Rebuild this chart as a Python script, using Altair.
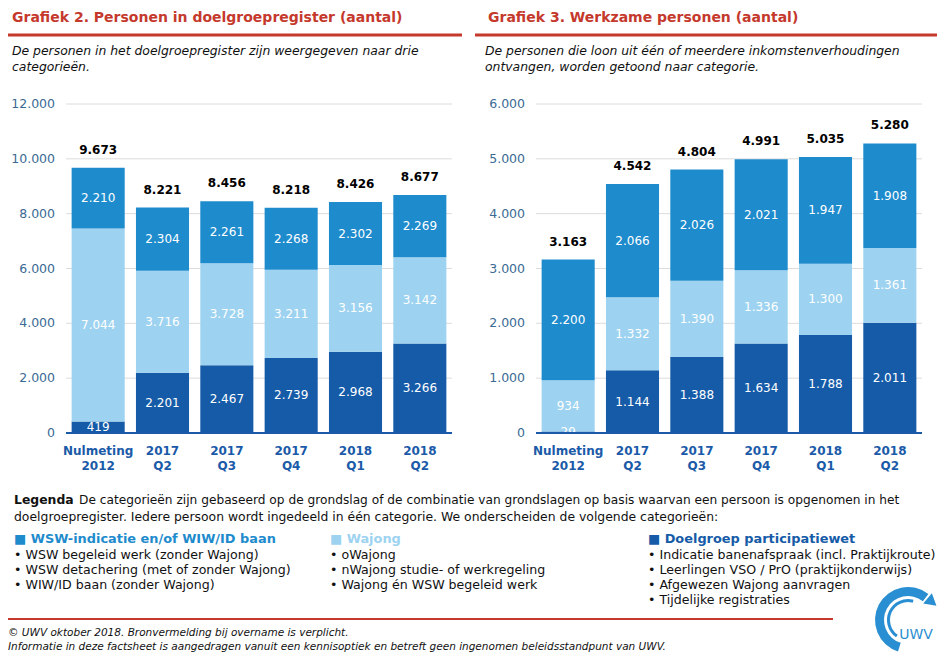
import altair as alt
import pandas as pd

# ---------------- data ----------------
CATS = ["Nulmeting 2012", "2017 Q2", "2017 Q3", "2017 Q4", "2018 Q1", "2018 Q2"]
SERIES = ["Doelgroep participatiewet", "Wajong", "WSW-indicatie en/of WIW/ID baan"]
COLORS = ["#165BA8", "#9DD3F0", "#1E8BCD"]

G2_DOELGROEP = [419, 2201, 2467, 2739, 2968, 3266]
G2_WAJONG = [7044, 3716, 3728, 3211, 3156, 3142]
G2_WSW = [2210, 2304, 2261, 2268, 2302, 2269]
G2_TOTAL = [9673, 8221, 8456, 8218, 8426, 8677]
G2_TICKS = [0, 2000, 4000, 6000, 8000, 10000, 12000]

G3_DOELGROEP = [29, 1144, 1388, 1634, 1788, 2011]
G3_WAJONG = [934, 1332, 1390, 1336, 1300, 1361]
G3_WSW = [2200, 2066, 2026, 2021, 1947, 1908]
G3_TOTAL = [3163, 4542, 4804, 4991, 5035, 5280]
G3_TICKS = [0, 1000, 2000, 3000, 4000, 5000, 6000]

TITLE2 = "Grafiek 2. Personen in doelgroepregister (aantal)"
SUB2 = ["De personen in het doelgroepregister zijn weergegeven naar drie",
        "categorieën."]
TITLE3 = "Grafiek 3. Werkzame personen (aantal)"
SUB3 = ["De personen die loon uit één of meerdere inkomstenverhoudingen",
        "ontvangen, worden getoond naar categorie."]

LEGEND_BOLD = "Legenda"
LEGEND_L1 = ("De categorieën zijn gebaseerd op de grondslag of de combinatie van grondslagen "
             "op basis waarvan een persoon is opgenomen in het")
LEGEND_L2 = ("doelgroepregister. Iedere persoon wordt ingedeeld in één categorie. "
             "We onderscheiden de volgende categorieën:")
HEAD = ["■ WSW-indicatie en/of WIW/ID baan", "■ Wajong", "■ Doelgroep participatiewet"]
HEAD_COLORS = ["#1E8BCD", "#9DD3F0", "#165BA8"]
ITEMS = [
    ["• WSW begeleid werk (zonder Wajong)",
     "• WSW detachering (met of zonder Wajong)",
     "• WIW/ID baan (zonder Wajong)"],
    ["• oWajong",
     "• nWajong studie- of werkregeling",
     "• Wajong én WSW begeleid werk"],
    ["• Indicatie banenafspraak (incl. Praktijkroute)",
     "• Leerlingen VSO / PrO (praktijkonderwijs)",
     "• Afgewezen Wajong aanvragen",
     "• Tijdelijke registraties"],
]
FOOT1 = "© UWV oktober 2018. Bronvermelding bij overname is verplicht."
FOOT2 = ("Informatie in deze factsheet is aangedragen vanuit een kennisoptiek en betreft "
         "geen ingenomen beleidsstandpunt van UWV.")

FONT = "DejaVu Sans"
RED = "#C5392D"
AXIS_BLUE = "#1A5AA8"
TICK_COL = "#3A6A94"
GRID = "#DCDCDC"
LOGO_BLUE = "#2A8FD2"


def nl(n):
    return f"{n:,}".replace(",", ".")


def long_df(d, wj, wsw):
    rows = []
    for i, c in enumerate(CATS):
        for o, (s, vals) in enumerate(zip(SERIES, [d, wj, wsw])):
            rows.append({"cat": c, "series": s, "v": vals[i], "ord": o, "label": nl(vals[i])})
    return pd.DataFrame(rows)


def one():
    return pd.DataFrame({"t": [0]})


def txt(text, x, y, size=12, color="#111111", weight="normal", style="normal", align="left"):
    return alt.Chart(pd.DataFrame({"t": [text]})).mark_text(
        font=FONT, fontSize=size, color=color, fontWeight=weight, fontStyle=style,
        align=align, baseline="middle"
    ).encode(text="t:N", x=alt.value(x), y=alt.value(y))


def hrule(x1, x2, y, color=RED, width=3):
    return alt.Chart(one()).mark_rule(color=color, strokeWidth=width).encode(
        x=alt.value(x1), x2=alt.value(x2), y=alt.value(y))


Y0, YTOP = 425, 96


def panel_layers(df, totals, ticks, dmax, x0, x1):
    xs = alt.Scale(domain=CATS, range=[x0, x1], paddingInner=0.175, paddingOuter=0.0875)
    ys = alt.Scale(domain=[0, dmax], range=[Y0, YTOP])
    tdf = pd.DataFrame({"tick": ticks, "lab": [nl(t) for t in ticks]})
    grid = alt.Chart(tdf).mark_rule(color=GRID, strokeWidth=1).encode(
        y=alt.Y("tick:Q", scale=ys, axis=None), x=alt.value(x0), x2=alt.value(x1))
    ticklab = alt.Chart(tdf).mark_text(
        font=FONT, fontSize=12.5, color=TICK_COL, align="right", baseline="middle"
    ).encode(y=alt.Y("tick:Q", scale=ys, axis=None), x=alt.value(x0 - 11), text="lab:N")
    bars = alt.Chart(df).mark_bar().encode(
        x=alt.X("cat:N", sort=CATS, scale=xs, axis=None),
        y=alt.Y("v:Q", stack="zero", scale=ys, axis=None),
        color=alt.Color("series:N", scale=alt.Scale(domain=SERIES, range=COLORS), legend=None),
        order=alt.Order("ord:Q", sort="ascending"),
    )
    seg = alt.Chart(df).transform_stack(
        stack="v", groupby=["cat"], as_=["y0", "y1"], sort=[alt.SortField("ord", order="ascending")]
    ).transform_calculate(mid="(datum.y0 + datum.y1) / 2").mark_text(
        font=FONT, fontSize=12, color="white"
    ).encode(
        x=alt.X("cat:N", sort=CATS, scale=xs, axis=None),
        y=alt.Y("mid:Q", scale=ys, axis=None),
        text="label:N",
    )
    base = alt.Chart(pd.DataFrame({"z": [0]})).mark_rule(color=AXIS_BLUE, strokeWidth=2).encode(
        y=alt.Y("z:Q", scale=ys, axis=None), x=alt.value(x0), x2=alt.value(x1))
    totdf = pd.DataFrame({"cat": CATS, "total": totals, "label": [nl(t) for t in totals]})
    tot = alt.Chart(totdf).mark_text(
        font=FONT, fontSize=12, fontWeight="bold", color="#000000", baseline="bottom", dy=-11
    ).encode(
        x=alt.X("cat:N", sort=CATS, scale=xs, axis=None),
        y=alt.Y("total:Q", scale=ys, axis=None),
        text="label:N",
    )
    xdf = pd.DataFrame({"cat": CATS, "lab": [c.replace(" ", "\n") for c in CATS]})
    xlab = alt.Chart(xdf).mark_text(
        font=FONT, fontSize=12, fontWeight="bold", color=AXIS_BLUE, baseline="top",
        lineBreak="\n", lineHeight=15
    ).encode(x=alt.X("cat:N", sort=CATS, scale=xs, axis=None), y=alt.value(Y0 + 13), text="lab:N")
    return [grid, ticklab, bars, seg, base, tot, xlab]


layers = []
# Grafiek 2
layers += panel_layers(long_df(G2_DOELGROEP, G2_WAJONG, G2_WSW), G2_TOTAL, G2_TICKS, 12000, 58, 444)
layers += [
    txt(TITLE2, 4, 10, size=14, color=RED, weight="bold"),
    hrule(0, 454, 27),
    txt(SUB2[0], 4, 43, size=12.4, style="italic"),
    txt(SUB2[1], 4, 59, size=12.4, style="italic"),
]
# Grafiek 3
layers += panel_layers(long_df(G3_DOELGROEP, G3_WAJONG, G3_WSW), G3_TOTAL, G3_TICKS, 6000, 528, 914)
layers += [
    txt(TITLE3, 480, 10, size=14, color=RED, weight="bold"),
    hrule(467, 929, 27),
    txt(SUB3[0], 477, 43, size=12.4, style="italic"),
    txt(SUB3[1], 477, 59, size=12.4, style="italic"),
]

# ---------------- legend / footer ----------------
layers += [
    txt(LEGEND_BOLD, 6, 492, size=12.4, weight="bold"),
    txt(LEGEND_L1, 71, 492, size=12.2),
    txt(LEGEND_L2, 6, 509, size=12.4),
]
col_x = [6, 322, 640]
for ci in range(3):
    layers.append(txt(HEAD[ci], col_x[ci], 531, size=12.9, color=HEAD_COLORS[ci], weight="bold"))
    for ri, it in enumerate(ITEMS[ci]):
        layers.append(txt(it, col_x[ci], 547 + 15 * ri, size=12.6))
layers.append(hrule(0, 825, 611, width=2))
layers.append(txt(FOOT1, 0, 625, size=10.5, style="italic"))
layers.append(txt(FOOT2, 0, 639, size=10.5, style="italic"))

# UWV logo
CX, CY = 900, 612
logo_outer = alt.Chart(one()).mark_arc(
    color=LOGO_BLUE, theta=3.45, theta2=6.95, radius=33, radius2=24
).encode(x=alt.value(CX), y=alt.value(CY))
logo_inner = alt.Chart(one()).mark_arc(
    color=LOGO_BLUE, theta=3.75, theta2=6.55, radius=21, radius2=18
).encode(x=alt.value(CX), y=alt.value(CY))
logo_arrow = alt.Chart(one()).mark_point(
    shape="triangle-right", filled=True, color=LOGO_BLUE, size=180, opacity=1, angle=40
).encode(x=alt.value(CX + 24), y=alt.value(CY - 18))
layers += [logo_outer, logo_inner, logo_arrow,
           txt("UWV", CX + 8, CY + 15, size=14, color=LOGO_BLUE, align="center")]

chart = alt.layer(*layers).resolve_scale(
    x="independent", y="independent"
).properties(
    width=929, height=646, padding=0, autosize=alt.AutoSizeParams(type="none")
).configure_view(strokeOpacity=0)

chart.save("out.html", embed_options={"renderer": "svg", "actions": False})
